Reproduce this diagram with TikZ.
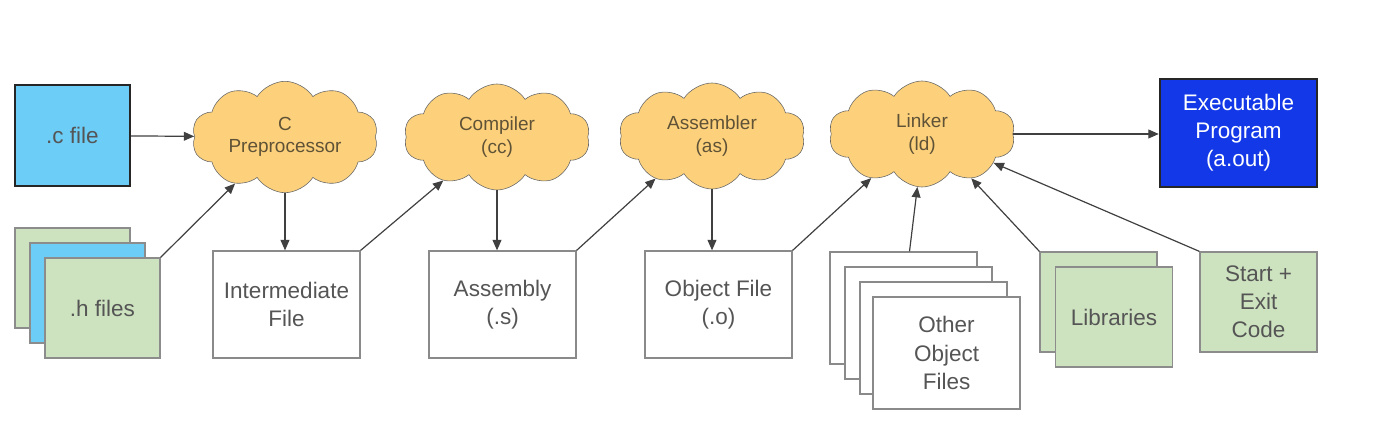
\documentclass[tikz,border=0pt]{standalone}
\usepackage{fontspec}
\setmainfont{Liberation Sans}
\usetikzlibrary{arrows.meta,shapes.symbols}
\definecolor{cfileblue}{HTML}{6CCDF7}
\definecolor{hgreen}{HTML}{CDE3BF}
\definecolor{cloudorange}{HTML}{FDD17C}
\definecolor{exeblue}{HTML}{1238E8}
\definecolor{boxgray}{HTML}{8A8A8A}
\definecolor{textgray}{HTML}{555555}
\definecolor{cloudtext}{HTML}{5F5236}
\tikzset{
	toolcloud/.style={cloud, cloud puffs=10, cloud puff arc=115, aspect=1.8, draw=black!60, fill=cloudorange, text=cloudtext, minimum width=4.65cm, minimum height=2.65cm, inner sep=0pt, align=center, font=\fontsize{13.5}{16}\selectfont},
	filebox/.style={draw=boxgray, fill=white, line width=0.3mm, text=textgray, align=center, minimum width=3.675cm, minimum height=2.675cm, inner sep=0pt, font=\fontsize{16}{20}\selectfont},
	greenbox/.style={filebox, fill=hgreen, draw=black!45, minimum width=2.9cm, minimum height=2.5cm},
	flow/.style={-{Triangle[length=2.6mm,width=2.2mm]}, line width=0.3mm, draw=black!75},
}

\begin{document}
\begin{tikzpicture}[x=0.025cm, y=-0.025cm]
		%%%%% START %%%%%
		\useasboundingbox (0, 0) rectangle (1398, 432);
		
		\node[greenbox, fill=cfileblue, draw=black!85, line width=0.6mm, minimum width=2.875cm, minimum height=2.525cm] (cfile) at (72.5, 135.5) {.c file};
		
		\node[greenbox, minimum width=2.875cm] (hback) at (72.5, 278) {};
		\node[greenbox, fill=cfileblue, minimum width=2.875cm] (hmid) at (87.5, 293) {};
		\node[greenbox, minimum width=2.875cm] (hfile) at (102.5, 308) {.h files};
		
		\node[toolcloud] (pre) at (285, 137) {C\\Preprocessor};
		\node[toolcloud] (comp) at (497, 137) {Compiler\\(cc)};
		\node[toolcloud] (asm) at (712, 136) {Assembler\\(as)};
		\node[toolcloud] (link) at (922, 134) {Linker\\(ld)};
		
		\node[filebox] (inter) at (286.5, 304.5) {Intermediate\\File};
		\node[filebox] (asmfile) at (502.5, 304.5) {Assembly\\(.s)};
		\node[filebox] (objfile) at (718.5, 304.5) {Object File\\(.o)};
		
		\node[filebox, minimum height=2.8cm] (other0) at (903.5, 308) {};
		\node[filebox, minimum height=2.8cm] (other1) at (918.5, 323) {};
		\node[filebox, minimum height=2.8cm] (other2) at (933.5, 338) {};
		\node[filebox, minimum height=2.8cm] (other) at (946.5, 353) {Other\\Object\\Files};
		
		\node[greenbox, minimum width=2.925cm] (libback) at (1098.5, 302) {};
		\node[greenbox, minimum width=2.925cm] (lib) at (1114, 317) {Libraries};
		\node[greenbox, minimum width=2.925cm] (start) at (1258.5, 302) {Start +\\Exit\\Code};
		
		\node[filebox, fill=exeblue, draw=black!85, line width=0.6mm, text=white, minimum width=3.925cm, minimum height=2.7cm] (exec) at (1238.5, 133) {Executable\\Program\\(a.out)};
		
		\draw[flow] (cfile) -- (pre);
		\draw[flow] (hfile.north east) -- (pre.223);
		\draw[flow] (pre.south) -- (pre.south |- inter.north);
		\draw[flow] (inter.north east) -- (comp.219);
		\draw[flow] (comp.south) -- (comp.south |- asmfile.north);
		\draw[flow] (asmfile.north east) -- (asm.217);
		\draw[flow] (asm.south) -- (asm.south |- objfile.north);
		\draw[flow] (objfile.north east) -- (link.221);
		\draw[flow] ([xshift=0.15cm]other0.north) -- (link.265);
		\draw[flow] (libback.north west) -- (link.318);
		\draw[flow] (start.north west) -- (link.338);
		\draw[flow] (link.east) -- (exec.west |- link.east);
		
		%%%%% END %%%%%
	\end{tikzpicture}
\end{document}
